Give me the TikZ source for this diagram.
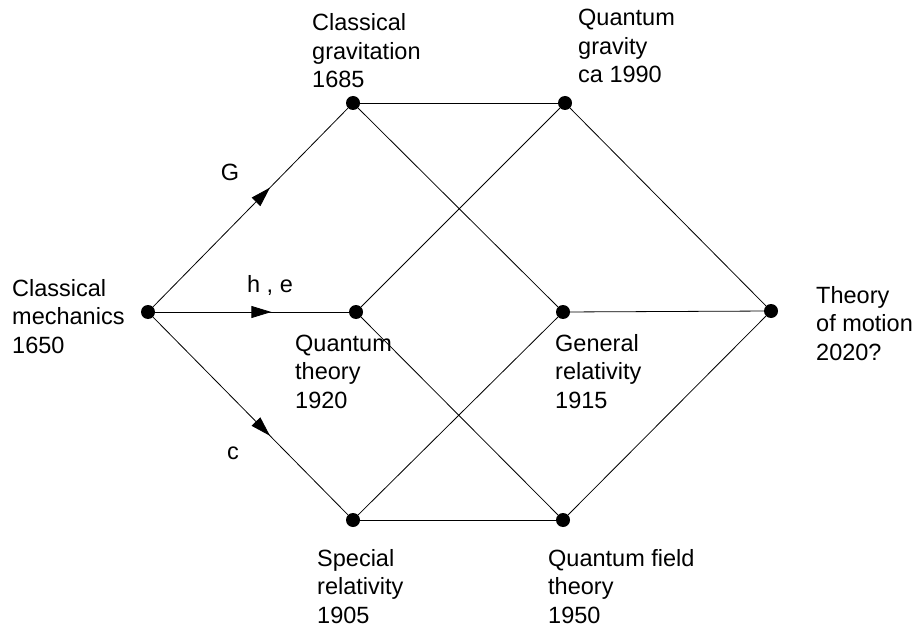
\documentclass[tikz,border=0pt]{standalone}
\usepackage{fontspec}
\setmainfont{Liberation Sans}
\usetikzlibrary{arrows.meta,decorations.markings}
\begin{document}
\begin{tikzpicture}[x=1pt,y=-1pt,
 dot/.style={circle,fill=black,inner sep=0pt,minimum size=14pt},
 lbl/.style={anchor=base west,align=left,inner sep=0pt,font=\fontsize{23.5}{28.5}\selectfont},
 elbl/.style={inner sep=0pt,font=\fontsize{23.5}{28.5}\selectfont},
 edge/.style={draw=black,line width=0.8pt},
 marr/.style={postaction={decorate},decoration={markings,mark=at position 0.6 with {\arrow{Triangle[length=20pt,width=12pt]}}}}
]
\useasboundingbox (0,0) rectangle (915,628);
% dots
\node[dot] (cm) at (148,312) {};
\node[dot] (cg) at (353,103) {};
\node[dot] (qg) at (565,103) {};
\node[dot] (qt) at (356,312) {};
\node[dot] (gr) at (563,312) {};
\node[dot] (tm) at (771,311) {};
\node[dot] (sr) at (353,520) {};
\node[dot] (qft) at (563,520) {};
% labels (anchor = baseline of last line)
\node[lbl] (tcm) at (12,353) {Classical\\mechanics\\1650};
\node[lbl] (tcg) at (312,88) {Classical\\gravitation\\1685};
\node[lbl] (tqg) at (578,83) {Quantum\\gravity\\ca 1990};
\node[lbl] (tqt) at (295,408) {Quantum\\theory\\1920};
\node[lbl] (tgr) at (555,408) {General\\relativity\\1915};
\node[lbl] (ttm) at (816,360) {Theory\\of motion\\2020?};
\node[lbl] (tsr) at (317,623) {Special\\relativity\\1905};
\node[lbl] (tqft) at (548,623) {Quantum field\\theory\\1950};
\node[elbl] (lg) at (230,172) {G};
\node[elbl] (lhe) at (270,285) {h , e};
\node[elbl] (lc) at (233,453) {c};
% edges
\draw[edge,marr] (cm) -- (cg);
\draw[edge,marr] (cm) -- (qt);
\draw[edge,marr] (cm) -- (sr);
\draw[edge] (cg) -- (qg);
\draw[edge] (cg) -- (gr);
\draw[edge] (qt) -- (qg);
\draw[edge] (qt) -- (qft);
\draw[edge] (sr) -- (gr);
\draw[edge] (sr) -- (qft);
\draw[edge] (qg) -- (tm);
\draw[edge] (gr) -- (tm);
\draw[edge] (qft) -- (tm);
\end{tikzpicture}
\end{document}
